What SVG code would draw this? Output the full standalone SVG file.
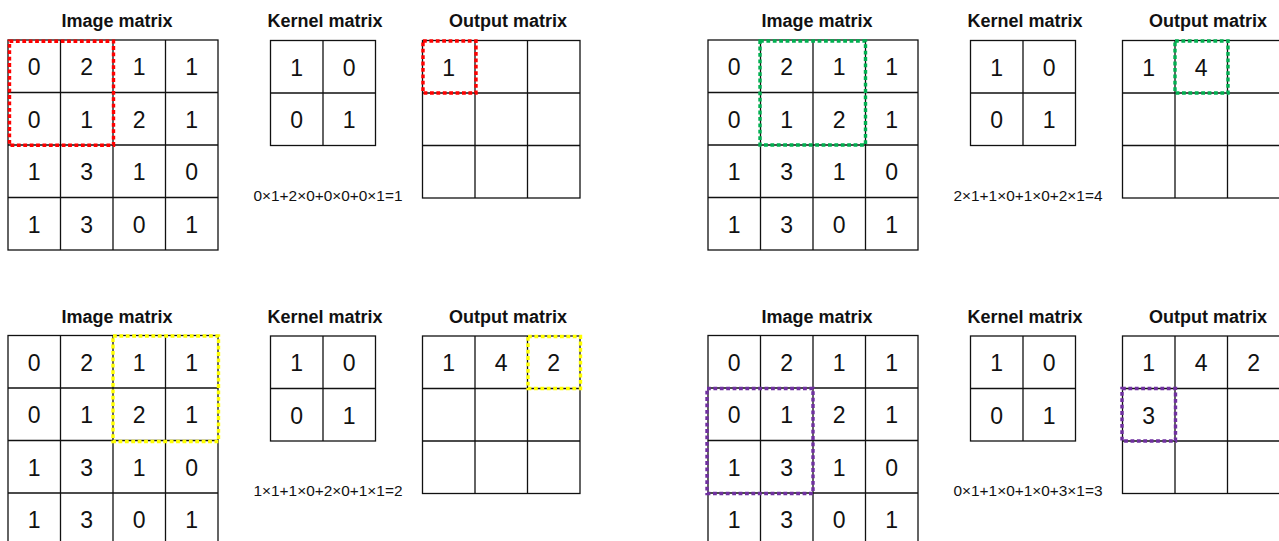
<svg xmlns="http://www.w3.org/2000/svg" width="1279" height="541" viewBox="0 0 1279 541">
<style>
.bg{fill:#fff}
.grid{fill:none;stroke:#111;stroke-width:1.3}
.t{font-family:"Liberation Sans",Arial,sans-serif;font-weight:bold;font-size:18px;text-anchor:middle;fill:#111}
.n{font-family:"Liberation Sans",Arial,sans-serif;font-size:23px;text-anchor:middle;fill:#111}
.f{font-family:"Liberation Sans",Arial,sans-serif;font-size:15.4px;fill:#111}
.d{fill:none;stroke-width:3.4;stroke-dasharray:3.8 2.6}
.red{stroke:#ff0000}.green{stroke:#00b050}.yellow{stroke:#ffff00}.purple{stroke:#7030a0}
</style>
<rect class="bg" x="0" y="0" width="1279" height="541"/>

<!-- Panel 1 -->
<g id="panel1">
 <g id="p1-image">
  <text class="t" x="117" y="27">Image matrix</text>
  <rect class="grid" x="8" y="40" width="210" height="210"/>
  <path class="grid" d="M60.5 40V250M113 40V250M165.5 40V250M8 92.5H218M8 145H218M8 197.5H218"/>
  <text class="n" x="34.25" y="75">0</text><text class="n" x="86.75" y="75">2</text><text class="n" x="139.25" y="75">1</text><text class="n" x="191.75" y="75">1</text>
  <text class="n" x="34.25" y="127.5">0</text><text class="n" x="86.75" y="127.5">1</text><text class="n" x="139.25" y="127.5">2</text><text class="n" x="191.75" y="127.5">1</text>
  <text class="n" x="34.25" y="180">1</text><text class="n" x="86.75" y="180">3</text><text class="n" x="139.25" y="180">1</text><text class="n" x="191.75" y="180">0</text>
  <text class="n" x="34.25" y="232.5">1</text><text class="n" x="86.75" y="232.5">3</text><text class="n" x="139.25" y="232.5">0</text><text class="n" x="191.75" y="232.5">1</text>
  <rect class="d red" x="9.5" y="41.3" width="104" height="104"/>
 </g>
 <g id="p1-kernel">
  <text class="t" x="325" y="27">Kernel matrix</text>
  <rect class="grid" x="270.5" y="40.5" width="105" height="105"/>
  <path class="grid" d="M323 40.5V145.5M270.5 93H375.5"/>
  <text class="n" x="296.75" y="75.5">1</text><text class="n" x="349.25" y="75.5">0</text>
  <text class="n" x="296.75" y="128">0</text><text class="n" x="349.25" y="128">1</text>
 </g>
 <g id="p1-output">
  <text class="t" x="508" y="27">Output matrix</text>
  <rect class="grid" x="422.5" y="40.5" width="157.5" height="157.5"/>
  <path class="grid" d="M475 40.5V198M527.5 40.5V198M422.5 93H580M422.5 145.5H580"/>
  <text class="n" x="448.75" y="75.5">1</text>
  <rect class="d red" x="423" y="41" width="53" height="52"/>
 </g>
 <text id="p1-formula" class="f" x="253.5" y="200.5">0×1+2×0+0×0+0×1=1</text>
</g>

<!-- Panel 2 -->
<g id="panel2" transform="translate(700,0)">
 <g id="p2-image">
  <text class="t" x="117" y="27">Image matrix</text>
  <rect class="grid" x="8" y="40" width="210" height="210"/>
  <path class="grid" d="M60.5 40V250M113 40V250M165.5 40V250M8 92.5H218M8 145H218M8 197.5H218"/>
  <text class="n" x="34.25" y="75">0</text><text class="n" x="86.75" y="75">2</text><text class="n" x="139.25" y="75">1</text><text class="n" x="191.75" y="75">1</text>
  <text class="n" x="34.25" y="127.5">0</text><text class="n" x="86.75" y="127.5">1</text><text class="n" x="139.25" y="127.5">2</text><text class="n" x="191.75" y="127.5">1</text>
  <text class="n" x="34.25" y="180">1</text><text class="n" x="86.75" y="180">3</text><text class="n" x="139.25" y="180">1</text><text class="n" x="191.75" y="180">0</text>
  <text class="n" x="34.25" y="232.5">1</text><text class="n" x="86.75" y="232.5">3</text><text class="n" x="139.25" y="232.5">0</text><text class="n" x="191.75" y="232.5">1</text>
  <rect class="d green" x="60" y="41" width="105.5" height="104"/>
 </g>
 <g id="p2-kernel">
  <text class="t" x="325" y="27">Kernel matrix</text>
  <rect class="grid" x="270.5" y="40.5" width="105" height="105"/>
  <path class="grid" d="M323 40.5V145.5M270.5 93H375.5"/>
  <text class="n" x="296.75" y="75.5">1</text><text class="n" x="349.25" y="75.5">0</text>
  <text class="n" x="296.75" y="128">0</text><text class="n" x="349.25" y="128">1</text>
 </g>
 <g id="p2-output">
  <text class="t" x="508" y="27">Output matrix</text>
  <rect class="grid" x="422.5" y="40.5" width="157.5" height="157.5"/>
  <path class="grid" d="M475 40.5V198M527.5 40.5V198M422.5 93H580M422.5 145.5H580"/>
  <text class="n" x="448.75" y="75.5">1</text><text class="n" x="501.25" y="75.5">4</text>
  <rect class="d green" x="475" y="41" width="53" height="52"/>
 </g>
 <text id="p2-formula" class="f" x="253.5" y="200.5">2×1+1×0+1×0+2×1=4</text>
</g>

<!-- Panel 3 -->
<g id="panel3" transform="translate(0,295.5)">
 <g id="p3-image">
  <text class="t" x="117" y="27">Image matrix</text>
  <rect class="grid" x="8" y="40" width="210" height="210"/>
  <path class="grid" d="M60.5 40V250M113 40V250M165.5 40V250M8 92.5H218M8 145H218M8 197.5H218"/>
  <text class="n" x="34.25" y="75">0</text><text class="n" x="86.75" y="75">2</text><text class="n" x="139.25" y="75">1</text><text class="n" x="191.75" y="75">1</text>
  <text class="n" x="34.25" y="127.5">0</text><text class="n" x="86.75" y="127.5">1</text><text class="n" x="139.25" y="127.5">2</text><text class="n" x="191.75" y="127.5">1</text>
  <text class="n" x="34.25" y="180">1</text><text class="n" x="86.75" y="180">3</text><text class="n" x="139.25" y="180">1</text><text class="n" x="191.75" y="180">0</text>
  <text class="n" x="34.25" y="232.5">1</text><text class="n" x="86.75" y="232.5">3</text><text class="n" x="139.25" y="232.5">0</text><text class="n" x="191.75" y="232.5">1</text>
  <rect class="d yellow" x="113" y="40.5" width="105.5" height="105.5"/>
 </g>
 <g id="p3-kernel">
  <text class="t" x="325" y="27">Kernel matrix</text>
  <rect class="grid" x="270.5" y="40.5" width="105" height="105"/>
  <path class="grid" d="M323 40.5V145.5M270.5 93H375.5"/>
  <text class="n" x="296.75" y="75.5">1</text><text class="n" x="349.25" y="75.5">0</text>
  <text class="n" x="296.75" y="128">0</text><text class="n" x="349.25" y="128">1</text>
 </g>
 <g id="p3-output">
  <text class="t" x="508" y="27">Output matrix</text>
  <rect class="grid" x="422.5" y="40.5" width="157.5" height="157.5"/>
  <path class="grid" d="M475 40.5V198M527.5 40.5V198M422.5 93H580M422.5 145.5H580"/>
  <text class="n" x="448.75" y="75.5">1</text><text class="n" x="501.25" y="75.5">4</text><text class="n" x="553.75" y="75.5">2</text>
  <rect class="d yellow" x="528" y="41" width="52.5" height="52"/>
 </g>
 <text id="p3-formula" class="f" x="253.5" y="200.5">1×1+1×0+2×0+1×1=2</text>
</g>

<!-- Panel 4 -->
<g id="panel4" transform="translate(700,295.5)">
 <g id="p4-image">
  <text class="t" x="117" y="27">Image matrix</text>
  <rect class="grid" x="8" y="40" width="210" height="210"/>
  <path class="grid" d="M60.5 40V250M113 40V250M165.5 40V250M8 92.5H218M8 145H218M8 197.5H218"/>
  <text class="n" x="34.25" y="75">0</text><text class="n" x="86.75" y="75">2</text><text class="n" x="139.25" y="75">1</text><text class="n" x="191.75" y="75">1</text>
  <text class="n" x="34.25" y="127.5">0</text><text class="n" x="86.75" y="127.5">1</text><text class="n" x="139.25" y="127.5">2</text><text class="n" x="191.75" y="127.5">1</text>
  <text class="n" x="34.25" y="180">1</text><text class="n" x="86.75" y="180">3</text><text class="n" x="139.25" y="180">1</text><text class="n" x="191.75" y="180">0</text>
  <text class="n" x="34.25" y="232.5">1</text><text class="n" x="86.75" y="232.5">3</text><text class="n" x="139.25" y="232.5">0</text><text class="n" x="191.75" y="232.5">1</text>
  <rect class="d purple" x="7" y="93" width="106" height="105"/>
 </g>
 <g id="p4-kernel">
  <text class="t" x="325" y="27">Kernel matrix</text>
  <rect class="grid" x="270.5" y="40.5" width="105" height="105"/>
  <path class="grid" d="M323 40.5V145.5M270.5 93H375.5"/>
  <text class="n" x="296.75" y="75.5">1</text><text class="n" x="349.25" y="75.5">0</text>
  <text class="n" x="296.75" y="128">0</text><text class="n" x="349.25" y="128">1</text>
 </g>
 <g id="p4-output">
  <text class="t" x="508" y="27">Output matrix</text>
  <rect class="grid" x="422.5" y="40.5" width="157.5" height="157.5"/>
  <path class="grid" d="M475 40.5V198M527.5 40.5V198M422.5 93H580M422.5 145.5H580"/>
  <text class="n" x="448.75" y="75.5">1</text><text class="n" x="501.25" y="75.5">4</text><text class="n" x="553.75" y="75.5">2</text>
  <text class="n" x="448.75" y="128">3</text>
  <rect class="d purple" x="422" y="93" width="53.5" height="52.5"/>
 </g>
 <text id="p4-formula" class="f" x="253.5" y="200.5">0×1+1×0+1×0+3×1=3</text>
</g>
</svg>
